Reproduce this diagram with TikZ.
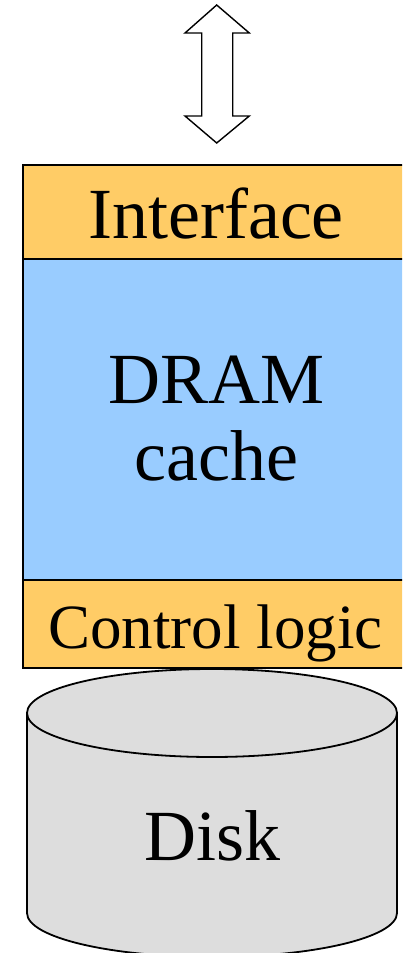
\documentclass[tikz,border=0pt]{standalone}
\usepackage{fontspec}
\setmainfont{Liberation Serif}
\definecolor{ifacefill}{HTML}{FFCC66}
\definecolor{dramfill}{HTML}{99CCFF}
\definecolor{diskfill}{HTML}{DDDDDD}
\tikzset{
  layer/.style={draw=black, line width=2.6pt},
  big/.style={font=\fontsize{72}{77}\selectfont, anchor=base, inner sep=0pt, align=center},
  mid/.style={font=\fontsize{63}{70}\selectfont, anchor=base, inner sep=0pt},
}
\begin{document}
\begin{tikzpicture}[x=1pt, y=-1pt]
\useasboundingbox (0,0) rectangle (402,953);
\clip (0,0) rectangle (402,953);

% bidirectional block arrow
\draw[line width=1.4pt, fill=white, line join=miter]
  (216.7,5) -- (249.3,33) -- (232.7,33) -- (232.7,116) -- (249.3,116)
  -- (216.7,143) -- (185,116) -- (201.7,116) -- (201.7,33) -- (185,33) -- cycle;

% stacked controller layers
\fill[ifacefill] (23,165) rectangle (412,259);
\fill[dramfill]  (23,259) rectangle (412,580);
\fill[ifacefill] (23,580) rectangle (412,668);
\draw[layer] (23,165) rectangle (412,668);
\draw[layer] (23,259) -- (412,259);
\draw[layer] (23,580) -- (412,580);

\node[big] (iface) at (216,238) {Interface};
\node[big] (dram)  at (216.5,403) {DRAM};
\node[big] (cache) at (216.5,480) {cache};
\node[mid] (ctrl)  at (215.5,648) {Control logic};

% disk cylinder
\fill[diskfill] (27,713) -- (27,913) arc[start angle=180, end angle=360, x radius=185, y radius=-44]
  -- (397,713) arc[start angle=0, end angle=180, x radius=185, y radius=-44] -- cycle;
\draw[line width=1.8pt, fill=diskfill] (212,713) ellipse[x radius=185, y radius=44];
\draw[line width=1.8pt] (27,713) -- (27,913) arc[start angle=180, end angle=360, x radius=185, y radius=-44] -- (397,713);

\node[big] (disk) at (212.5,860) {Disk};
\end{tikzpicture}
\end{document}
